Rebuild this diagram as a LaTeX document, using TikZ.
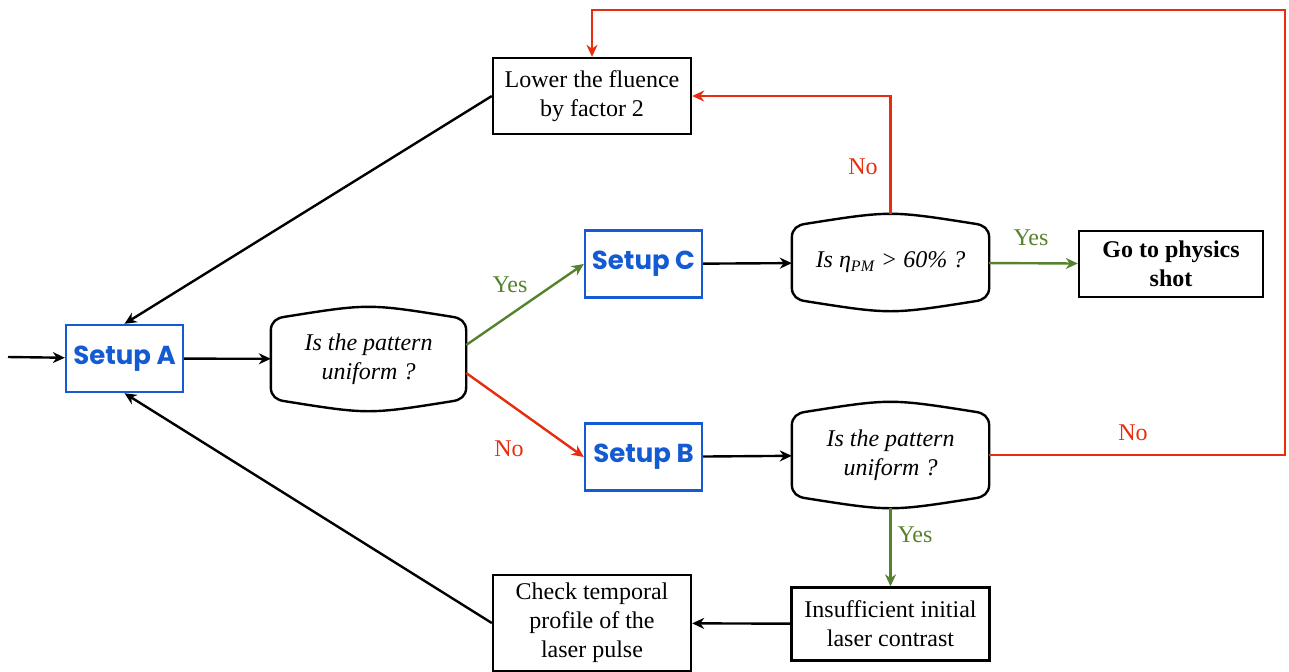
\documentclass[tikz,border=0pt,12pt]{standalone}
\usepackage{fontspec}
\setmainfont{Liberation Serif}
\newfontfamily\setupfont{Poppins}
\usetikzlibrary{arrows.meta,calc}

\definecolor{setupblue}{RGB}{20,90,210}
\definecolor{nored}{RGB}{230,45,15}
\definecolor{yesgreen}{RGB}{85,130,45}

% pillow-like outline around a decision node
\newcommand{\decisionshape}[1]{%
  \draw ([yshift=-12pt]#1.north west) .. controls ([yshift=-7.5pt]#1.north west) and ([xshift=3pt,yshift=-5.5pt]#1.north west) .. ([xshift=7pt,yshift=-5pt]#1.north west)
    .. controls ([yshift=1.67pt]#1.north) .. ([xshift=-7pt,yshift=-5pt]#1.north east)
    .. controls ([xshift=-3pt,yshift=-5.5pt]#1.north east) and ([yshift=-7.5pt]#1.north east) .. ([yshift=-12pt]#1.north east)
    -- ([yshift=12pt]#1.south east) .. controls ([yshift=7.5pt]#1.south east) and ([xshift=-3pt,yshift=5.5pt]#1.south east) .. ([xshift=-7pt,yshift=5pt]#1.south east)
    .. controls ([yshift=-1.67pt]#1.south) .. ([xshift=7pt,yshift=5pt]#1.south west)
    .. controls ([xshift=3pt,yshift=5.5pt]#1.south west) and ([yshift=7.5pt]#1.south west) .. ([yshift=12pt]#1.south west) -- cycle;}

\begin{document}
\begin{tikzpicture}[x=0.5pt, y=-0.5pt, >={Stealth[length=6pt,width=5.5pt]}, line width=1.2pt,
  setupbox/.style={draw=setupblue, text=setupblue, font=\setupfont\bfseries\fontsize{13}{15}\selectfont,
    minimum width=58.5pt, minimum height=33.5pt, inner sep=0pt},
  plainbox/.style={draw, align=center, inner sep=0pt},
  decision/.style={align=center, font=\itshape, inner sep=0pt},
  yesline/.style={->, draw=yesgreen},
  noline/.style={->, draw=nored},
  yeslabel/.style={text=yesgreen},
  nolabel/.style={text=nored}]

\useasboundingbox (0,0) rectangle (1289,671);

\coordinate (start) at (8,357);
\coordinate (loopcorner) at (1285,10);

\node[setupbox] (setupA) at (124.5,358.5) {Setup A};
\node[decision, minimum width=96.5pt, minimum height=51pt] (pattern1) at (368.5,359) {Is the pattern\\uniform ?};
\node[setupbox] (setupC) at (643.5,264) {Setup C};
\node[setupbox] (setupB) at (643.5,457) {Setup B};
\node[decision, minimum width=97.5pt, minimum height=47.5pt] (eta) at (890.5,262.5) {Is η\textsubscript{PM} > 60\% ?};
\node[decision, minimum width=97.5pt, minimum height=52pt] (pattern2) at (890.5,455) {Is the pattern\\uniform ?};
\node[plainbox, font=\bfseries, minimum width=92pt, minimum height=33pt] (physics) at (1171,264) {Go to physics\\shot};
\node[plainbox, minimum width=99pt, minimum height=38pt] (fluence) at (592,96) {Lower the fluence\\by factor 2};
\node[plainbox, minimum width=99pt, minimum height=48pt] (temporal) at (592,623) {Check temporal\\profile of the\\laser pulse};
\node[plainbox, minimum width=99pt, minimum height=36.5pt] (contrast) at (890.5,624) {Insufficient initial\\laser contrast};

\decisionshape{pattern1}
\decisionshape{eta}
\decisionshape{pattern2}

\draw[->] (start) -- (setupA);
\draw[->] (setupA) -- (pattern1);
\draw[yesline] ([yshift=7pt]pattern1.east) -- (setupC.west);
\draw[noline] ([yshift=-7pt]pattern1.east) -- (setupB.west);
\draw[->] (setupC) -- (eta);
\draw[yesline] (eta) -- (physics);
\draw[noline] (eta.north) |- (fluence.east);
\draw[->] (setupB) -- (pattern2);
\draw[yesline] (pattern2.south) -- (contrast.north);
\draw[noline] (pattern2.east) -| (loopcorner) -| (fluence.north);
\draw[->] (contrast) -- (temporal);
\draw[->] (fluence.west) -- (setupA.north);
\draw[->] (temporal.west) -- (setupA.south);

\node[yeslabel] (yes1) at (510,285) {Yes};
\node[nolabel] (no1) at (509,449) {No};
\node[yeslabel] (yes2) at (1031,238) {Yes};
\node[nolabel] (no2) at (863,167) {No};
\node[nolabel] (no3) at (1133,433) {No};
\node[yeslabel] (yes3) at (915,535) {Yes};

\end{tikzpicture}
\end{document}
